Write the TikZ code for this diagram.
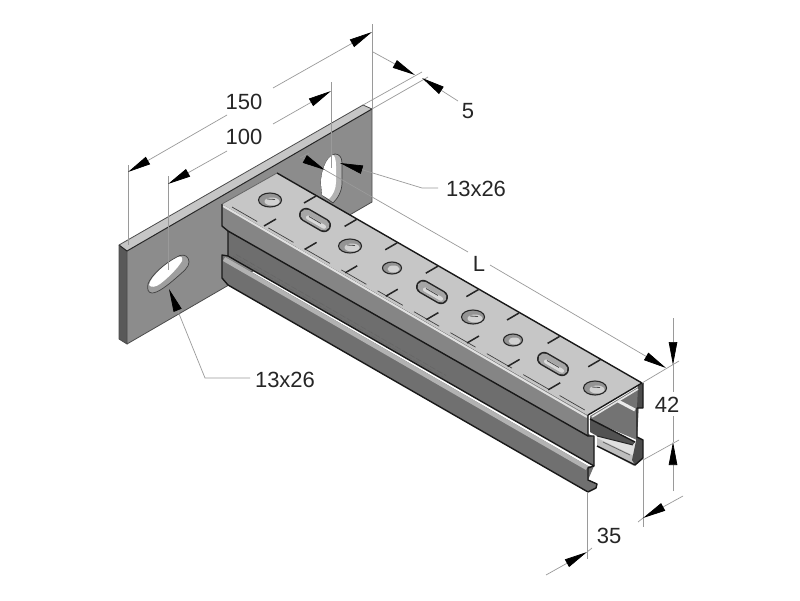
\documentclass[tikz,border=0pt]{standalone}
\usepackage{fontspec}
\setmainfont{Liberation Sans}
\usetikzlibrary{arrows.meta}
\definecolor{plategray}{HTML}{8C8C8C}
\definecolor{topgray}{HTML}{C6C6C6}
\definecolor{webgray}{HTML}{6E6E6E}
\definecolor{flangegray}{HTML}{858585}
\definecolor{lowergray}{HTML}{707070}
\definecolor{dimgray}{HTML}{9A9A9A}
\tikzset{
	dimline/.style={draw=dimgray, line width=0.7pt},
	dimtip/.style={dimline, -{Triangle[length=23pt,width=8.5pt,black]}},
	dimtext/.style={font=\fontsize{22}{22}\selectfont, text=black!85, inner sep=0pt},
	edgeline/.style={draw=black!90, line width=1.4pt, line join=round},
	cutmark/.style={draw=black!85, line width=1.5pt},
	holeround/.style={fill=black!42, draw=black!85, line width=1.1pt},
	holeslot/.style={draw=black!85, line width=14pt, line cap=round}
}
\begin{document}
\begin{tikzpicture}[x=1pt,y=-1pt]
	\useasboundingbox (0,0) rectangle (800,600);
	\fill[white] (0,0) rectangle (800,600);
	% plate
	\fill[color=plategray] (127,251) -- (372,109) -- (372,202) -- (127,344) -- cycle;
	\fill[color=topgray] (119,245) -- (363,105) -- (372,109) -- (127,251) -- cycle;
	\fill[color=black!65] (119,245) -- (127,251) -- (127,344) -- (119,339) -- cycle;
	\draw[draw=black!85, line width=1pt] (119,245) -- (127,251) -- (372,109);
	\draw[draw=black!70, line width=0.8pt] (127,251) -- (127,344) -- (119,339) -- (119,245) -- (363,105) -- (372,109) -- (372,202) -- (127,344);
	% left slot
	\fill[color=black!38, draw=black!75, line width=0.7pt] (180,255.5) .. controls (185,254) and (189,257) .. (189,262) .. controls (189,267) and (184,271) .. (176,278) .. controls (168,285) and (158,293) .. (152,293) .. controls (148,293) and (147,289) .. (148,284) .. controls (151,275) and (166,262) .. (180,255.5) -- cycle;
	\fill[white] (178,257) .. controls (181,256) and (183,257) .. (182,261) .. controls (178,268) and (168,278) .. (160,284) .. controls (156,287) and (151,288) .. (149,285) .. controls (151,276) and (166,263) .. (178,257) -- cycle;
	% right slot
	\fill[color=black!30, draw=black!75, line width=0.7pt] (335,154) .. controls (339,154) and (342,157) .. (342,163) -- (342,183) .. controls (342,192) and (337,199) .. (333,203) -- (322,195) -- (321,183) .. controls (321,170) and (327,156) .. (335,154) -- cycle;
	\fill[white] (333,155) .. controls (335,156) and (336,160) .. (336,166) -- (336,182) .. controls (336,189) and (333,195) .. (329,199) -- (322,195) -- (321,183) .. controls (321,170) and (327,157) .. (333,155) -- cycle;
	% channel, inside of the far wall
	\fill[color=black!55] (590,416) -- (640,386) -- (637,440) -- (590,420) -- cycle;
	\fill[color=black!68] (590,418) -- (635,442) -- (633,445) -- (597,436) -- (590,432) -- cycle;
	\fill[color=black!12] (597,436) -- (633,445) -- (637,440) -- (637,458) -- (632,462) -- (597,445) -- cycle;
	\fill[color=black!25] (597,438) -- (636,457) -- (634,466) -- (597,446) -- cycle;
	\draw[color=black!60, line width=0.8pt] (603,442) -- (630,455);
	\fill[color=black!70] (638,386) -- (643,383) -- (643,408) -- (637,408) -- cycle;
	\fill[color=black!70] (636,408) -- (636,437) -- (643,440) -- (643,458) -- (635,465) -- (632,460) -- (636,441) -- cycle;
	\draw[color=black!8, line width=3pt] (618,401) -- (635,410);
	\draw[color=black!10, line width=1.6pt] (592,417) -- (638,389);
	\draw[edgeline] (643,383) -- (643,408) -- (637,408) -- (637,437) -- (643,440) -- (643,458) -- (635,465) -- (597,446);
	\draw[edgeline] (590,419) -- (635,442);
	\draw[draw=black!85, line width=1pt] (597,436) -- (633,445);
	% channel, outside
	\fill[color=webgray] (228,231) -- (594,437) -- (594,466) -- (228,256) -- cycle;
	\fill[color=lowergray] (222,255) -- (588,466) -- (594,466) -- (588,480) -- (597,484) -- (596,488) -- (588,492) -- (228,285) -- (222,278) -- cycle;
	\draw[color=black!30, line width=4.5pt] (224,259) -- (587,468);
	\draw[color=black!60, line width=0.6pt, dash pattern=on 6pt off 2pt] (233,256) -- (443,377);
	\draw[color=black!60, line width=0.6pt, dash pattern=on 6pt off 2pt] (236,254.5) -- (446,375.5);
	\fill[color=flangegray] (222,204) -- (588,415) -- (588,436) -- (228,231) -- (222,226) -- cycle;
	\draw[color=black!12, line width=2pt] (223,206) -- (587,417);
	\fill[color=topgray] (222,204) -- (277,173) -- (642,383) -- (588,415) -- cycle;
	\draw[edgeline] (277,173) -- (642,383);
	\draw[edgeline] (222,204) -- (222,226) -- (228,231) -- (588,436);
	\draw[edgeline] (228,231) -- (228,256) -- (222,255) -- (222,278) -- (228,285) -- (588,492);
	\draw[edgeline] (228,256) -- (594,466);
	\draw[draw=black!60, line width=0.8pt] (222,204) -- (277,173);
	\draw[edgeline] (588,415) -- (642,383);
	\draw[edgeline] (588,415) -- (588,436) -- (594,436) -- (594,466) -- (588,468) -- (588,480) -- (597,484) -- (596,488) -- (588,492);
	% fold line on the top
	\draw[draw=black!75, line width=0.7pt, dash pattern=on 29pt off 13pt] (232,207) -- (590,413);
	% cuts
	\foreach \i in {0,...,7} {
		\draw[cutmark] (304+40.6*\i, 203+23.4*\i) -- (316+40.6*\i, 196+23.4*\i);
		\draw[cutmark] (264+40.6*\i, 226+23.4*\i) -- (276+40.6*\i, 219+23.4*\i);
	}
	% holes
	\foreach \hx/\hy in {270/200, 350/246, 473/317, 595/388} {
		\fill[holeround] (\hx,\hy) ellipse (11.5pt and 7pt);
		\fill[color=black!18] (\hx+2,\hy+1.5) ellipse (7.5pt and 4pt);
		\draw[draw=black!70, line width=0.8pt] (\hx-3,\hy-1) -- (\hx+5,\hy-0.5);
	}
	\foreach \hx/\hy in {392/268, 513/340} {
		\fill[holeround] (\hx,\hy) ellipse (9.5pt and 6pt);
		\fill[color=black!18] (\hx+1.5,\hy+1) ellipse (6pt and 3.5pt);
	}
	\foreach \hx/\hy in {315/220, 432/292, 553/364} {
		\draw[holeslot] (\hx-9,\hy-5.2) -- (\hx+9,\hy+5.2);
		\draw[draw=black!35, line width=11pt, line cap=round] (\hx-9,\hy-5.2) -- (\hx+9,\hy+5.2);
		\draw[draw=black!15, line width=4pt, line cap=round] (\hx-7,\hy-2.5) -- (\hx+9,\hy+6.8);
		\draw[draw=black!70, line width=0.8pt] (\hx-6,\hy-3.5) -- (\hx+6,\hy+3.5);
	}
	% dimension 150
	\draw[dimline] (128,165) -- (128,245);
	\draw[dimline] (372,24) -- (372,109);
	\draw[dimtip] (227,115) -- (128,172);
	\draw[dimtip] (273,88) -- (372,32);
	% dimension 100
	\draw[dimline] (168,176) -- (168,270);
	\draw[dimline] (331,82) -- (331,168);
	\draw[dimtip] (227,151) -- (168,184);
	\draw[dimtip] (273,124) -- (331,91);
	% dimension 5
	\draw[dimline] (422,72) -- (363,105);
	\draw[dimline] (428,77) -- (372,109);
	\draw[dimtip] (373,52) -- (415,75);
	\draw[dimtip] (458,101) -- (422,78);
	% slot top
	\draw[dimline] (300,158) -- (309,153);
	\draw[dimtip] (303,158) -- (325,170);
	\coordinate (slotleader) at (422,188);
	\node[dimtext] (sloteast) at (476,189) {13x26};
	\draw[dimtip] (438,188) -- (slotleader) -- (340,163);
	% dimension L
	\node[dimtext] (lengthL) at (479,264) {L};
	\draw[dimline] (325,170) -- (468,252);
	\draw[dimtip] (490,265) -- (666,368);
	\draw[dimline] (642,383) -- (679,361);
	% dimension 42
	\draw[dimtip] (673,318) -- (673,365);
	\draw[dimline] (673,365) -- (673,392);
	\draw[dimtip] (673,491) -- (673,442);
	\draw[dimline] (673,442) -- (673,416);
	\draw[dimline] (643,460) -- (679,440);
	% dimension 35
	\draw[dimline] (643,460) -- (643,527);
	\draw[dimline] (587,492) -- (587,559);
	\draw[dimtip] (546,575) -- (587,552);
	\draw[dimline] (587,552) -- (592,548);
	\draw[dimtip] (683,496) -- (643,518);
	\draw[dimline] (643,518) -- (638,522);
	% slot left
	\coordinate (slotbend) at (205,378);
	\node[dimtext] (slotsouth) at (285,380) {13x26};
	\draw[dimtip] (250,378) -- (slotbend) -- (169,289);
	% labels
	\node[dimtext] (width150) at (244,102) {150};
	\node[dimtext] (width100) at (244,137) {100};
	\node[dimtext] (thick5) at (468,111) {5};
	\node[dimtext] (height42) at (667,405) {42};
	\node[dimtext] (depth35) at (609,536) {35};
\end{tikzpicture}
\end{document}
